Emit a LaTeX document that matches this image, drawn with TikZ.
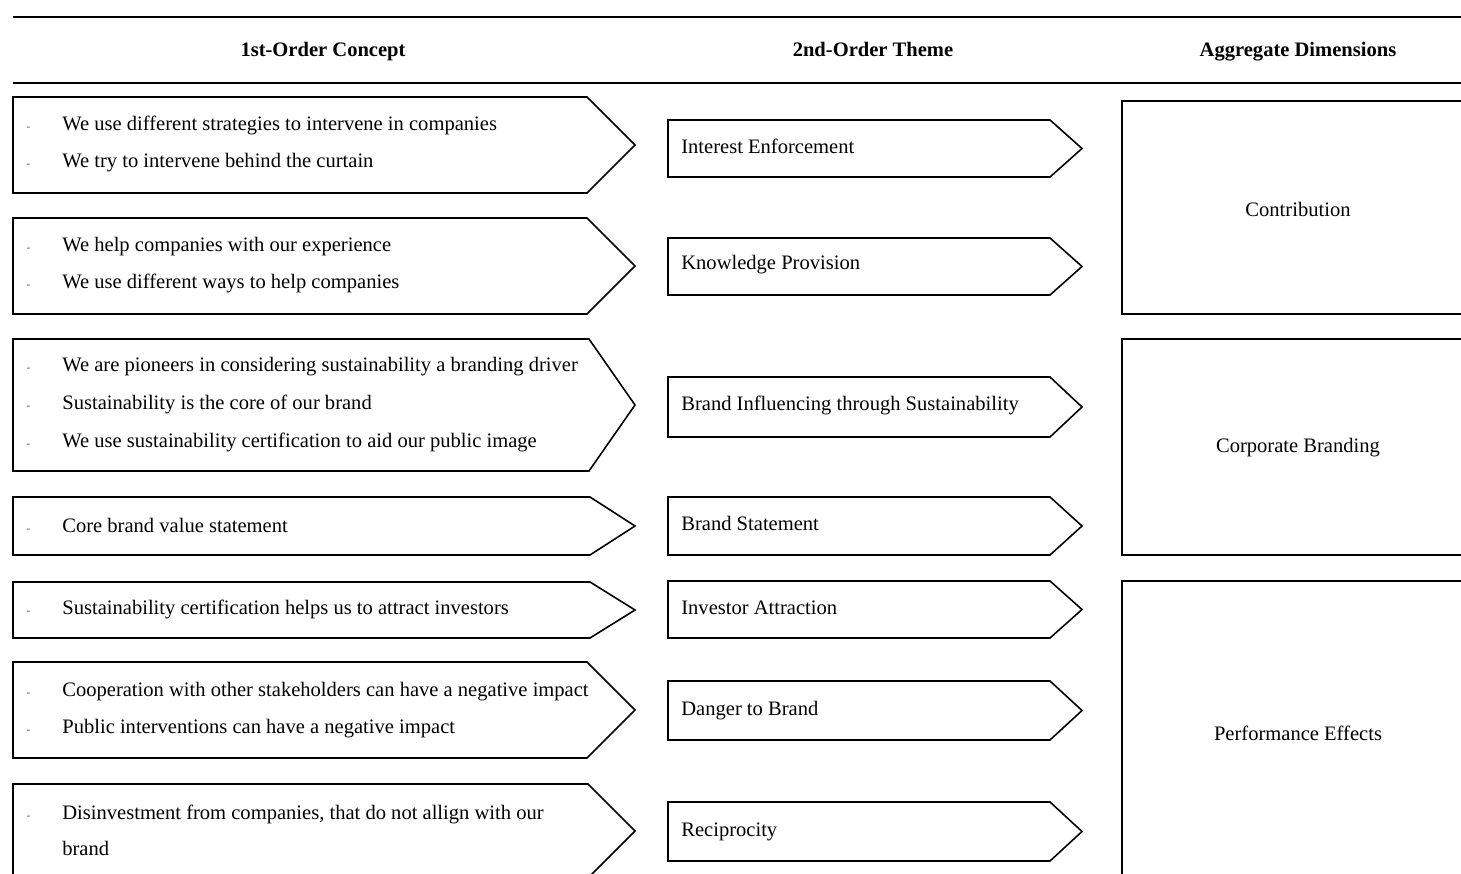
\documentclass[tikz,border=0pt]{standalone}
\usepackage{fontspec}
\setmainfont{Liberation Serif}
\usetikzlibrary{positioning}

% small dash used in front of each concept line
\newcommand{\bul}{\makebox[0.72cm][l]{\color{black!60}\scriptsize -}}
% arrow-shaped box: left x, top y, bottom y, tip x, tip depth
\newcommand{\chevron}[5]{%
  \draw[outline] (#1,#2) -- ({#4-#5},#2) -- (#4,{(#2+#3)/2})
    -- ({#4-#5},#3) -- (#1,#3) -- cycle;}

\begin{document}
\begin{tikzpicture}[
    x=0.02cm, y=-0.02cm,
    outline/.style={draw, line width=0.9pt, line join=miter},
    rule/.style={line width=1pt},
    head/.style={anchor=base, inner sep=0pt, font=\fontsize{11.7}{14}\selectfont\bfseries},
    concept/.style={anchor=west, align=left, inner sep=0pt,
                    font=\fontsize{11.7}{20.6}\selectfont},
    theme/.style={anchor=base west, inner sep=0pt, font=\fontsize{11.7}{14}\selectfont},
    dim/.style={inner sep=0pt, font=\fontsize{11.7}{14}\selectfont}
]
    \useasboundingbox (0,0) rectangle (1461,874);

    % table head
    \draw[rule] (13,17) -- (1470,17);
    \draw[rule] (13,83) -- (1470,83);
    \node[head] (hconcept) at (323,57) {1st-Order Concept};
    \node[head] (htheme) at (873,57) {2nd-Order Theme};
    \node[head] (hdim) at (1298,57) {Aggregate Dimensions};

    % 1st-order concepts
    \chevron{13}{97}{193}{635}{48}
    \chevron{13}{218}{314}{635}{48}
    \chevron{13}{339}{471}{635}{46}
    \chevron{13}{497}{555}{635}{45}
    \chevron{13}{582}{638}{635}{45}
    \chevron{13}{662}{758}{635}{48}
    \chevron{13}{784}{878}{635}{47}

    \node[concept] (c1) at (26,144) {\bul We use different strategies to intervene in companies\\
                                     \bul We try to intervene behind the curtain};
    \node[concept] (c2) at (26,265) {\bul We help companies with our experience\\
                                     \bul We use different ways to help companies};
    \node[concept] (c3) at (26,405) {\bul We are pioneers in considering sustainability a branding driver\\[1pt]
                                     \bul Sustainability is the core of our brand\\[1pt]
                                     \bul We use sustainability certification to aid our public image};
    \node[concept] (c4) at (26,525) {\bul Core brand value statement};
    \node[concept] (c5) at (26,609) {\bul Sustainability certification helps us to attract investors};
    \node[concept] (c6) at (26,710) {\bul Cooperation with other stakeholders can have a negative impact\\
                                     \bul Public interventions can have a negative impact};
    \node[concept] (c7) at (26,830) {\bul Disinvestment from companies, that do not allign with our\\
                                     \makebox[0.72cm]{}brand};

    % 2nd-order themes
    \chevron{668}{120}{177}{1082}{32}
    \chevron{668}{238}{295}{1082}{32}
    \chevron{668}{377}{437}{1082}{32}
    \chevron{668}{497}{555}{1082}{32}
    \chevron{668}{581}{638}{1082}{32}
    \chevron{668}{681}{740}{1082}{32}
    \chevron{668}{802}{861}{1082}{32}

    \node[theme] (t1) at (681,154) {Interest Enforcement};
    \node[theme] (t2) at (681,270) {Knowledge Provision};
    \node[theme] (t3) at (681,411) {Brand Influencing through Sustainability};
    \node[theme] (t4) at (681,531) {Brand Statement};
    \node[theme] (t5) at (681,615) {Investor Attraction};
    \node[theme] (t6) at (681,715) {Danger to Brand};
    \node[theme] (t7) at (681,836) {Reciprocity};

    % aggregate dimensions
    \draw[outline] (1122,101) rectangle (1475,314);
    \draw[outline] (1122,339) rectangle (1475,555);
    \draw[outline] (1122,581) rectangle (1475,890);

    \node[dim] (d1) at (1298,209) {Contribution};
    \node[dim] (d2) at (1298,448) {Corporate Branding};
    \node[dim] (d3) at (1298,733) {Performance Effects};
\end{tikzpicture}
\end{document}
